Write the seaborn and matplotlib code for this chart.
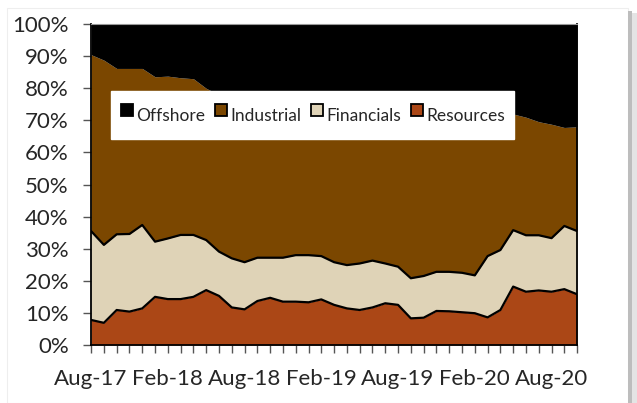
"""
plot.py - 100% stacked area of portfolio weights by sector (Aug-17 to Oct-20)
"""

import numpy as np
import pandas as pd
import matplotlib.pyplot as plt
from matplotlib.lines import Line2D
from matplotlib.patches import Rectangle
from matplotlib.ticker import FixedLocator, PercentFormatter
import seaborn as sns

# --- data (shares in %) ---
months = pd.date_range("2017-08-01", "2020-10-01", freq="MS").strftime("%b-%y").tolist()

resources = [7.8, 6.9, 10.9, 10.4, 11.4, 15.0, 14.3, 14.3, 15.0, 17.1,
             15.3, 11.7, 11.1, 13.7, 14.7, 13.5, 13.5, 13.3, 14.2, 12.5,
             11.4, 10.9, 11.7, 13.0, 12.5, 8.3, 8.5, 10.6, 10.5, 10.2,
             9.9, 8.6, 10.9, 18.2, 16.6, 17.0, 16.6, 17.4, 15.8]
financials = [27.7, 24.3, 23.6, 24.2, 26.0, 17.2, 18.9, 20.0, 19.3, 15.6,
              13.8, 15.3, 14.7, 13.5, 12.5, 13.7, 14.5, 14.7, 13.5, 13.3,
              13.5, 14.5, 14.6, 12.4, 11.9, 12.5, 13.0, 12.2, 12.3, 12.3,
              11.8, 19.1, 18.7, 17.6, 17.6, 17.2, 16.7, 19.7, 19.7]
industrial = [55.0, 57.6, 51.7, 51.6, 48.8, 51.4, 50.6, 49.0, 48.7, 47.3,
              48.9, 50.0, 50.2, 48.8, 48.8, 47.8, 47.0, 47.0, 47.3, 49.2,
              50.1, 49.6, 48.7, 49.6, 50.6, 53.2, 52.5, 51.2, 51.2, 51.5,
              51.3, 45.3, 43.4, 36.2, 36.8, 35.4, 35.5, 30.7, 32.5]
offshore = [9.5, 11.2, 13.8, 13.8, 13.8, 16.4, 16.2, 16.7, 17.0, 20.0,
            22.0, 23.0, 24.0, 24.0, 24.0, 25.0, 25.0, 25.0, 25.0, 25.0,
            25.0, 25.0, 25.0, 25.0, 25.0, 26.0, 26.0, 26.0, 26.0, 26.0,
            27.0, 27.0, 27.0, 28.0, 29.0, 30.4, 31.2, 32.2, 32.0]

sectors = ["Resources", "Financials", "Industrial", "Offshore"]
colors = {"Resources": "#AB4716", "Financials": "#DFD3B7",
          "Industrial": "#7B4700", "Offshore": "#000000"}

df = pd.DataFrame({"month": months, "Resources": resources, "Financials": financials,
                   "Industrial": industrial, "Offshore": offshore})
df["x"] = np.arange(len(df))

sns.set_theme(style="white")
plt.rcParams["font.family"] = ["Lato", "DejaVu Sans"]

fig = plt.figure(figsize=(6.37, 4.03), dpi=100)
ax = fig.add_axes([0.143, 0.144, 0.763, 0.796])

ax.stackplot(df["x"], [df[s] for s in sectors],
             colors=[colors[s] for s in sectors], linewidth=0)

# black outlines on top of the two lower bands
df["res_top"] = df["Resources"]
df["fin_top"] = df["Resources"] + df["Financials"]
sns.lineplot(data=df, x="x", y="res_top", color="black", linewidth=1.6, ax=ax)
sns.lineplot(data=df, x="x", y="fin_top", color="black", linewidth=1.6, ax=ax)

ax.set_xlim(0, len(df) - 1)
ax.set_ylim(0, 100)
ax.set_xlabel("")
ax.set_ylabel("")

ax.yaxis.set_major_locator(FixedLocator(np.arange(0, 101, 10)))
ax.yaxis.set_major_formatter(PercentFormatter(decimals=0))

label_pos = df["x"][::6].tolist()
ax.set_xticks(label_pos)
ax.set_xticklabels(df["month"][::6].tolist())
ax.xaxis.set_minor_locator(FixedLocator(df["x"].tolist()))

ax.tick_params(axis="y", which="major", direction="out", length=6, width=1,
               color="#555555", labelsize=16, pad=10, left=True)
ax.tick_params(axis="x", which="both", direction="out", length=6, width=1,
               color="#555555", labelsize=16, pad=11, bottom=True)

for side in ["left", "bottom", "right"]:
    ax.spines[side].set_color("black")
    ax.spines[side].set_linewidth(1.3)
ax.spines["top"].set_color("#999999")
ax.spines["top"].set_linewidth(0.8)

# legend (white box inside the plot)
order = ["Offshore", "Industrial", "Financials", "Resources"]
handles = [Line2D([], [], linestyle="none", marker="s", markersize=9,
                  markerfacecolor=colors[s], markeredgecolor="black", markeredgewidth=1.3)
           for s in order]
leg = ax.legend(handles, order, loc="upper left", bbox_to_anchor=(0.041, 0.791),
                ncol=4, fontsize=12.5, frameon=True, fancybox=False,
                handlelength=0.8, handleheight=2.35, handletextpad=0.15,
                columnspacing=0.5, borderaxespad=0, borderpad=0.5)
leg.get_frame().set_facecolor("white")
leg.get_frame().set_edgecolor("white")
leg.get_frame().set_alpha(1)

# slide-style frame with soft shadow on the right
fig.add_artist(Rectangle((7 / 637, 0), 621 / 637, 395 / 403, transform=fig.transFigure,
                         facecolor="none", edgecolor="#eeeeee", linewidth=0.8, zorder=-1))
fig.add_artist(Rectangle((628 / 637, 0), 4 / 637, 392 / 403, transform=fig.transFigure,
                         facecolor="#bdbdbd", edgecolor="none"))
fig.add_artist(Rectangle((632 / 637, 0), 5 / 637, 390 / 403, transform=fig.transFigure,
                         facecolor="#e4e4e4", edgecolor="none"))

fig.savefig("out.png", dpi=100)
